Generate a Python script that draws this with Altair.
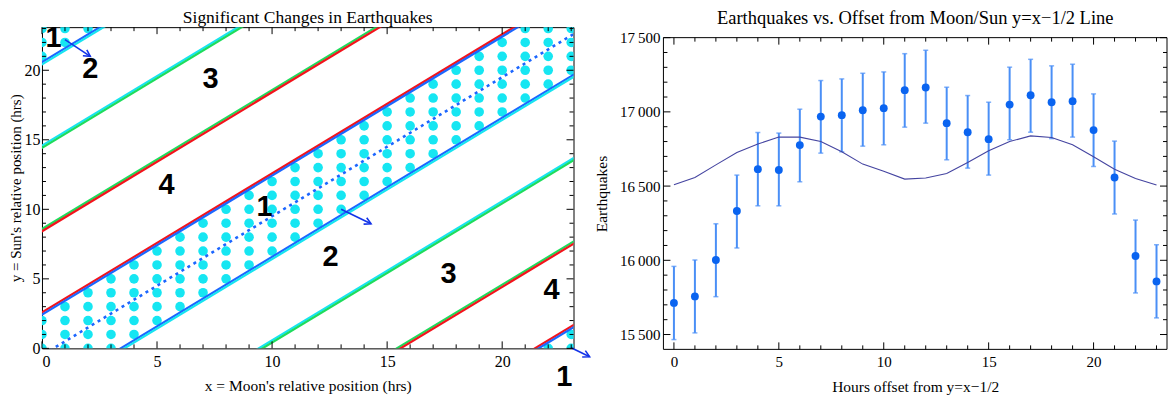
import math
import altair as alt
import pandas as pd

# ---------------- data: left panel ----------------
LEFT_TITLE = "Significant Changes in Earthquakes"
HOURS = list(range(24))                      # integer grid of hours (x and y)
BAND_DIFFS = [-3, -2, -1, 0, 1, 2]           # y - x (mod 24) of the dotted region 1 cells
BOUNDARIES = [2.5, -3.5, -9.5, -15.5, -21.5, 20.5, 14.5, 8.5]   # y = x + c boundary lines
UPPER_COLOR = ["red", "blue", "cyan", "green", "red", "blue", "cyan", "green"]
LOWER_COLOR = ["blue", "cyan", "green", "red", "blue", "cyan", "green", "red"]
CENTER_OFFSET = [-0.5]                        # dotted line y = x - 1/2
ARROW_X0 = [1.0, 13.0, 23.0]
ARROW_Y0 = [22.2, 10.0, 0.05]
ARROW_X1 = [2.1, 14.3, 23.8]
ARROW_Y1 = [21.0, 8.96, -0.6]
LABEL_TEXT = ["1", "2", "3", "4", "1", "2", "3", "4", "1"]
LABEL_X = [0.5, 2.1, 7.33, 5.41, 9.67, 12.54, 17.67, 22.15, 22.7]
LABEL_Y = [22.3, 20.1, 19.4, 11.76, 10.2, 6.54, 5.33, 4.2, -2.07]

# ---------------- data: right panel ----------------
RIGHT_TITLE = "Earthquakes vs. Offset from Moon/Sun y=x\u22121/2 Line"
OFFSET_HOURS = list(range(24))
QUAKES = [15713, 15757, 16002, 16332, 16614, 16608, 16776, 16968, 16978, 17011, 17025, 17146,
          17164, 16924, 16863, 16816, 17049, 17112, 17065, 17072, 16877, 16558, 16029, 15858]
QUAKES_HI = [15959, 16002, 16246, 16574, 16861, 16857, 17018, 17211, 17222, 17260, 17269, 17392,
             17415, 17166, 17110, 17065, 17301, 17354, 17310, 17321, 17121, 16803, 16271, 16105]
QUAKES_LO = [15466, 15511, 15755, 16083, 16367, 16367, 16529, 16722, 16731, 16769, 16778, 16897,
             16924, 16677, 16621, 16574, 16812, 16863, 16820, 16830, 16632, 16312, 15780, 15612]
MODEL = [16509, 16558, 16643, 16726, 16783, 16830, 16830, 16800, 16731, 16648, 16600, 16547,
         16554, 16585, 16659, 16738, 16800, 16838, 16827, 16778, 16697, 16614, 16551, 16507]

# tick values
L_MAJOR = [0, 5, 10, 15, 20]
L_MINOR = [v for v in range(1, 24) if v % 5]
R_X_MAJOR = [0, 5, 10, 15, 20]
R_X_MINOR = [v for v in range(0, 24) if v % 5]
R_Y_MAJOR = [15500, 16000, 16500, 17000, 17500]
R_Y_MINOR = [v for v in range(15500, 17500, 100) if v % 500]

# ---------------- style ----------------
COLORS = {"red": "#f2141c", "blue": "#1c66ff", "cyan": "#16e4f0", "green": "#1edc5c"}
SERIF = "Liberation Serif"
LW, LH = 532, 321.5
RW, RH, RTOP = 504, 322.5, 10.5
LDOM = [0, 23.1]
D = 0.08

xsL = alt.Scale(domain=LDOM, nice=False, zero=False)
ysL = alt.Scale(domain=LDOM, nice=False, zero=False)
xsR = alt.Scale(domain=[-0.5, 23.5], nice=False, zero=False)
ysR = alt.Scale(domain=[15400, 17500], nice=False, zero=False, range=[RH, RTOP])

axLx = alt.Axis(values=L_MAJOR, title="x = Moon's relative position (hrs)",
                labelFontSize=16, labelPadding=5.5, titlePadding=9)
axLy = alt.Axis(values=L_MAJOR, title="y = Sun's relative position (hrs)",
                labelFontSize=16, labelPadding=2, titlePadding=0, titleFontSize=15)
ylabel = "replace(format(datum.value, ','), ',', '\u2009')"
axRx = alt.Axis(values=R_X_MAJOR, title="Hours offset from y=x\u22121/2",
                labelFontSize=15, labelPadding=5.3, titlePadding=10)
axRy = alt.Axis(values=R_Y_MAJOR, title="Earthquakes", labelExpr=ylabel,
                labelFontSize=15, labelPadding=3.5, titlePadding=10)


def frame_ticks(xmaj, xmin, ymaj, ymin, xsc, ysc, axx, axy, W, H, top=0, big=7, small=4):
    layers = []
    for vals, ln in ((xmaj, big), (xmin, small)):
        b = alt.Chart(pd.DataFrame({"t": vals})).mark_rule(color="black", strokeWidth=1)
        layers.append(b.encode(x=alt.X("t:Q", scale=xsc, axis=axx), y=alt.value(H), y2=alt.value(H - ln)))
        layers.append(b.encode(x=alt.X("t:Q", scale=xsc, axis=axx), y=alt.value(top), y2=alt.value(top + ln)))
    for vals, ln in ((ymaj, big), (ymin, small)):
        b = alt.Chart(pd.DataFrame({"t": vals})).mark_rule(color="black", strokeWidth=1)
        layers.append(b.encode(y=alt.Y("t:Q", scale=ysc, axis=axy), x=alt.value(0), x2=alt.value(ln)))
        layers.append(b.encode(y=alt.Y("t:Q", scale=ysc, axis=axy), x=alt.value(W), x2=alt.value(W - ln)))
    return layers


def title_text(text, W, y, size):
    return alt.Chart(pd.DataFrame({"t": [text]})).mark_text(
        font=SERIF, fontSize=size, baseline="alphabetic", align="center", color="black"
    ).encode(text="t:N", x=alt.value(W / 2), y=alt.value(y))


# ---------------- left panel ----------------
band = {d % 24 for d in BAND_DIFFS}
dots = pd.DataFrame([{"x": x, "y": y} for x in HOURS for y in HOURS if (y - x) % 24 in band])

line_rows = []
for c, cu, cl in zip(BOUNDARIES, UPPER_COLOR, LOWER_COLOR):
    for off, col in ((D, cu), (-D, cl)):
        line_rows.append({"x": -2, "y": -2 + c + off, "x2": 26, "y2": 26 + c + off, "col": COLORS[col]})
lines = pd.DataFrame(line_rows)
center = pd.DataFrame([{"x": -2, "y": -2 + c, "x2": 26, "y2": 26 + c} for c in CENTER_OFFSET])

sx, sy = LW / (LDOM[1] - LDOM[0]), LH / (LDOM[1] - LDOM[0])
arrows = pd.DataFrame({"x": ARROW_X0, "y": ARROW_Y0, "x2": ARROW_X1, "y2": ARROW_Y1})
arrows["ang"] = [math.degrees(math.atan2(-(b - a) * sy, (d - c) * sx))
                 for a, b, c, d in zip(ARROW_Y0, ARROW_Y1, ARROW_X0, ARROW_X1)]
labels = pd.DataFrame({"t": LABEL_TEXT, "x": LABEL_X, "y": LABEL_Y})


def LX(f):
    return alt.X(f, scale=xsL, axis=axLx)


def LY(f):
    return alt.Y(f, scale=ysL, axis=axLy)


dot_layer = alt.Chart(dots).mark_circle(size=92, color="#16e6f2", opacity=1, clip=True).encode(
    x=LX("x:Q"), y=LY("y:Q"))
line_layer = alt.Chart(lines).mark_rule(strokeWidth=2.2, clip=True).encode(
    x=LX("x:Q"), y=LY("y:Q"), x2="x2:Q", y2="y2:Q", color=alt.Color("col:N", scale=None))
center_layer = alt.Chart(center).mark_rule(strokeWidth=2.6, strokeDash=[3, 4], color=COLORS["blue"], clip=True).encode(
    x=LX("x:Q"), y=LY("y:Q"), x2="x2:Q", y2="y2:Q")
arrow_layer = alt.Chart(arrows).mark_rule(strokeWidth=1.6, color="#1434e8").encode(
    x=LX("x:Q"), y=LY("y:Q"), x2="x2:Q", y2="y2:Q")
head_layer = alt.Chart(arrows).mark_point(shape="M -1 -0.55 L 0 0 L -1 0.55", filled=False, size=170,
                                          strokeWidth=1.6, color="#1434e8", opacity=1).encode(
    x=LX("x2:Q"), y=LY("y2:Q"), angle=alt.Angle("ang:Q", scale=None))
label_layer = alt.Chart(labels).mark_text(font="Liberation Sans", fontWeight="bold", fontSize=29,
                                          align="center", baseline="middle", color="black").encode(
    x=LX("x:Q"), y=LY("y:Q"), text="t:N")

left = alt.layer(
    dot_layer, line_layer, center_layer, arrow_layer, head_layer, label_layer,
    title_text(LEFT_TITLE, LW, -4.2, 17.5),
    *frame_ticks(L_MAJOR, L_MINOR, L_MAJOR, L_MINOR, xsL, ysL, axLx, axLy, LW, LH)
).properties(
    width=LW, height=LH,
    view=alt.ViewBackground(stroke="black", strokeWidth=1),
)

# ---------------- right panel ----------------
rdf = pd.DataFrame({"h": OFFSET_HOURS, "q": QUAKES, "lo": QUAKES_LO, "hi": QUAKES_HI, "m": MODEL})
bar_col = "#4a8ff6"


def RX(f):
    return alt.X(f, scale=xsR, axis=axRx)


def RY(f):
    return alt.Y(f, scale=ysR, axis=axRy)


err = alt.Chart(rdf).mark_rule(color=bar_col, strokeWidth=2).encode(x=RX("h:Q"), y=RY("lo:Q"), y2="hi:Q")
cap_lo = alt.Chart(rdf).mark_tick(color=bar_col, thickness=1.5, size=5, orient="horizontal").encode(
    x=RX("h:Q"), y=RY("lo:Q"))
cap_hi = alt.Chart(rdf).mark_tick(color=bar_col, thickness=1.5, size=5, orient="horizontal").encode(
    x=RX("h:Q"), y=RY("hi:Q"))
curve = alt.Chart(rdf).mark_line(color="#4444a0", strokeWidth=1.1).encode(x=RX("h:Q"), y=RY("m:Q"))
pts = alt.Chart(rdf).mark_circle(size=62, color="#0a64f0", opacity=1).encode(x=RX("h:Q"), y=RY("q:Q"))
frame = alt.Chart(pd.DataFrame({"a": [0]})).mark_rect(fillOpacity=0, stroke="black", strokeWidth=1).encode(
    x=alt.value(0), x2=alt.value(RW), y=alt.value(RTOP), y2=alt.value(RH))

right = alt.layer(
    err, cap_lo, cap_hi, curve, pts, frame,
    title_text(RIGHT_TITLE, RW, -2.9, 18.5),
    *frame_ticks(R_X_MAJOR, R_X_MINOR, R_Y_MAJOR, R_Y_MINOR, xsR, ysR, axRx, axRy, RW, RH, top=RTOP)
).properties(
    width=RW, height=RH,
    view=alt.ViewBackground(stroke="transparent", strokeWidth=0),
)

chart = alt.hconcat(left, right, spacing=0).properties(padding=0).configure_axis(
    grid=False, ticks=False, domain=False, labelFont=SERIF, titleFont=SERIF, labelColor="black",
    titleColor="black", titleFontWeight="normal", titleFontSize=15.5
)

chart.save("out.html", embed_options={"renderer": "svg", "actions": False})
